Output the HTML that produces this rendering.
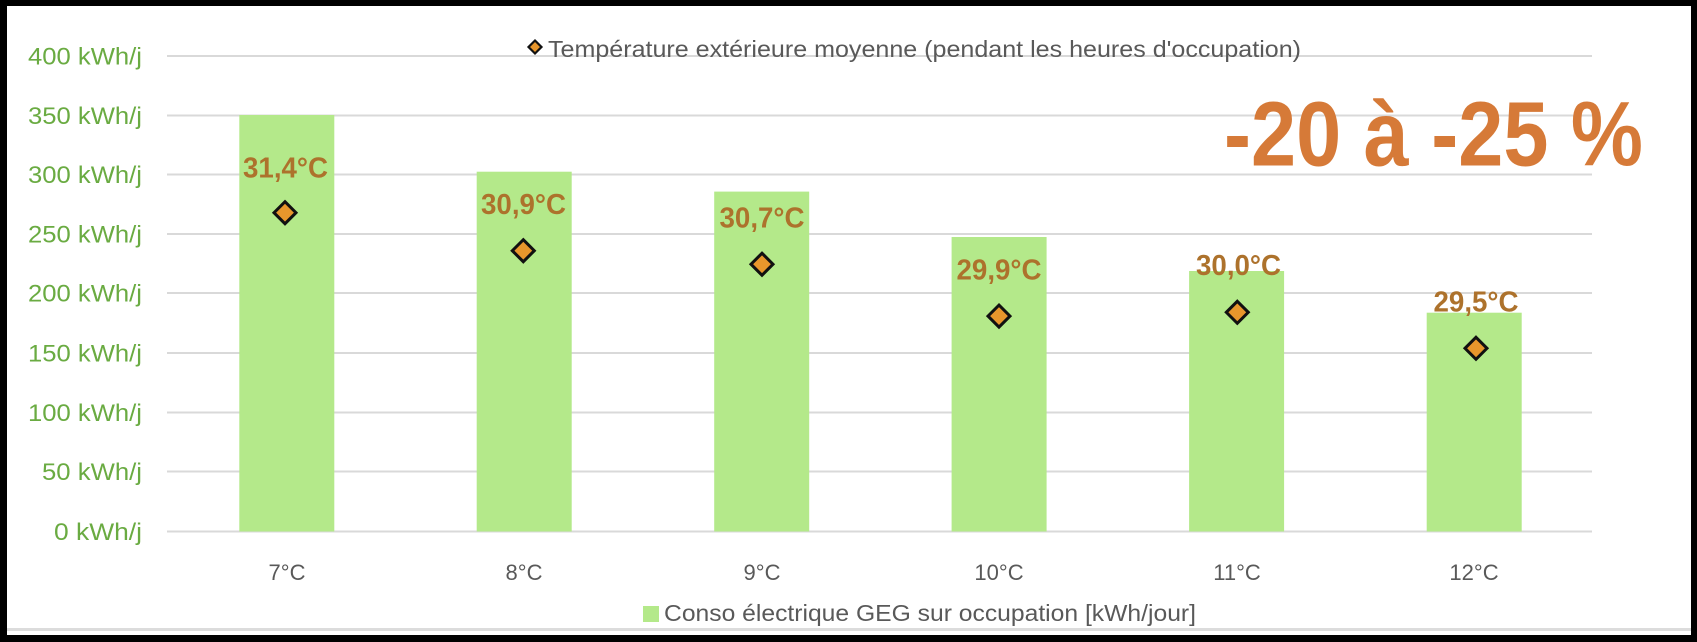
<!DOCTYPE html>
<html>
<head>
<meta charset="utf-8">
<style>
  html, body { margin: 0; padding: 0; background: #000; }
  svg { display: block; }
  text { font-family: "Liberation Sans", "DejaVu Sans", sans-serif; }
</style>
</head>
<body>
<svg width="1697" height="642" viewBox="0 0 1697 642" xmlns="http://www.w3.org/2000/svg">
  <rect x="0" y="0" width="1697" height="642" fill="#000"/>
  <rect x="7" y="6" width="1684" height="629" fill="#ffffff"/>
  <rect x="7" y="628" width="1684" height="3" fill="#dcdcdc"/>

  <!-- gridlines -->
  <g stroke="#d9d9d9" stroke-width="2">
    <line x1="167" y1="56" x2="1592" y2="56"/>
    <line x1="167" y1="115.5" x2="1592" y2="115.5"/>
    <line x1="167" y1="174.5" x2="1592" y2="174.5"/>
    <line x1="167" y1="234" x2="1592" y2="234"/>
    <line x1="167" y1="293" x2="1592" y2="293"/>
    <line x1="167" y1="353" x2="1592" y2="353"/>
    <line x1="167" y1="412.5" x2="1592" y2="412.5"/>
    <line x1="167" y1="471.5" x2="1592" y2="471.5"/>
    <line x1="167" y1="531.5" x2="1592" y2="531.5"/>
  </g>

  <!-- y labels -->
  <g fill="#6aab42" font-size="24" text-anchor="end">
    <text x="142" y="64.5" textLength="114" lengthAdjust="spacingAndGlyphs">400 kWh/j</text>
    <text x="142" y="124" textLength="114" lengthAdjust="spacingAndGlyphs">350 kWh/j</text>
    <text x="142" y="183" textLength="114" lengthAdjust="spacingAndGlyphs">300 kWh/j</text>
    <text x="142" y="242.5" textLength="114" lengthAdjust="spacingAndGlyphs">250 kWh/j</text>
    <text x="142" y="301.5" textLength="114" lengthAdjust="spacingAndGlyphs">200 kWh/j</text>
    <text x="142" y="361.5" textLength="114" lengthAdjust="spacingAndGlyphs">150 kWh/j</text>
    <text x="142" y="421" textLength="114" lengthAdjust="spacingAndGlyphs">100 kWh/j</text>
    <text x="142" y="480" textLength="100" lengthAdjust="spacingAndGlyphs">50 kWh/j</text>
    <text x="142" y="540" textLength="88" lengthAdjust="spacingAndGlyphs">0 kWh/j</text>
  </g>

  <!-- bars -->
  <g fill="#b4e98a">
    <rect x="239.3" y="115" width="95" height="416.5"/>
    <rect x="476.7" y="171.7" width="95" height="359.8"/>
    <rect x="714.2" y="191.6" width="95" height="339.9"/>
    <rect x="951.6" y="237" width="95" height="294.5"/>
    <rect x="1189.1" y="271" width="95" height="260.5"/>
    <rect x="1426.7" y="312.7" width="95" height="218.8"/>
  </g>

  <!-- data labels -->
  <g fill="#ad722c" font-size="29" font-weight="bold" text-anchor="middle">
    <text x="285.5" y="177.3" textLength="85" lengthAdjust="spacingAndGlyphs">31,4°C</text>
    <text x="523.5" y="214" textLength="85" lengthAdjust="spacingAndGlyphs">30,9°C</text>
    <text x="762" y="227.7" textLength="85" lengthAdjust="spacingAndGlyphs">30,7°C</text>
    <text x="999" y="279.6" textLength="85" lengthAdjust="spacingAndGlyphs">29,9°C</text>
    <text x="1238.5" y="275" textLength="85" lengthAdjust="spacingAndGlyphs">30,0°C</text>
    <text x="1476" y="311.7" textLength="85" lengthAdjust="spacingAndGlyphs">29,5°C</text>
  </g>

  <!-- diamonds -->
  <g fill="#e8962c" stroke="#111" stroke-width="3" stroke-linejoin="miter">
    <path d="M285 201.7 L296 212.7 L285 223.7 L274 212.7 Z"/>
    <path d="M523.3 239.7 L534.3 250.7 L523.3 261.7 L512.3 250.7 Z"/>
    <path d="M762 253.2 L773 264.2 L762 275.2 L751 264.2 Z"/>
    <path d="M999 305.1 L1010 316.1 L999 327.1 L988 316.1 Z"/>
    <path d="M1237.3 301.3 L1248.3 312.3 L1237.3 323.3 L1226.3 312.3 Z"/>
    <path d="M1476 337.3 L1487 348.3 L1476 359.3 L1465 348.3 Z"/>
  </g>

  <!-- x labels -->
  <g fill="#595959" font-size="22" text-anchor="middle">
    <text x="287" y="580">7°C</text>
    <text x="524" y="580">8°C</text>
    <text x="762" y="580">9°C</text>
    <text x="999" y="580">10°C</text>
    <text x="1237" y="580">11°C</text>
    <text x="1474" y="580">12°C</text>
  </g>

  <!-- top legend -->
  <path d="M535 40.5 L541.5 47 L535 53.5 L528.5 47 Z" fill="#e8962c" stroke="#111" stroke-width="2.2"/>
  <text x="548" y="57" fill="#595959" font-size="23" textLength="753" lengthAdjust="spacingAndGlyphs">Température extérieure moyenne (pendant les heures d'occupation)</text>

  <!-- bottom legend -->
  <rect x="643" y="606" width="16" height="16" fill="#b4e98a"/>
  <text x="664" y="621" fill="#595959" font-size="23" textLength="532" lengthAdjust="spacingAndGlyphs">Conso électrique GEG sur occupation [kWh/jour]</text>

  <!-- big annotation -->
  <text x="1224" y="165.5" fill="#d67a38" font-size="92" font-weight="bold" textLength="419" lengthAdjust="spacingAndGlyphs">-20 à -25 %</text>
</svg>
</body>
</html>
